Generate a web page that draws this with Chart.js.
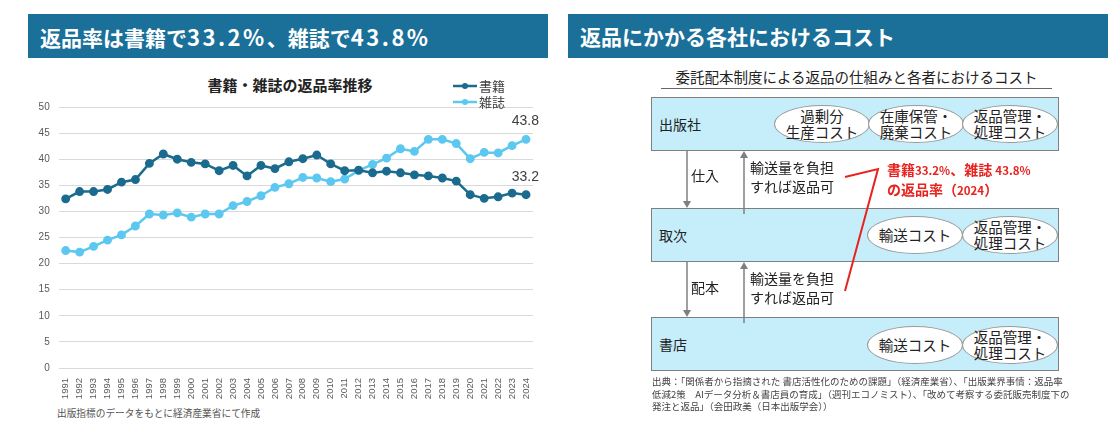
<!DOCTYPE html>
<html lang="ja">
<head>
<meta charset="utf-8">
<script src="https://cdn.jsdelivr.net/npm/chart.js@4.4.1/dist/chart.umd.min.js"></script>
<style>
  body { margin: 0; background: #fff; font-family: "Noto Sans CJK JP", "Noto Sans", sans-serif; }
  #page { position: relative; width: 1117px; height: 439px; overflow: hidden; }
  .abs { position: absolute; white-space: nowrap; }
  .bar { position: absolute; background: #1a7099; color: #fff; font-weight: bold; font-size: 21px; line-height: 44px; padding-left: 12px; box-sizing: border-box; }
  .bar .num { letter-spacing: 2.5px; font-size: 22px; }
  .box { position: absolute; left: 651px; width: 408px; height: 54px; background: #c6eefa; border: 1.5px solid #7f7f7f; box-sizing: border-box; }
  .name { position: absolute; left: 7px; top: 0; line-height: 52px; font-size: 14px; color: #222; }
  .ell { position: absolute; width: 96px; height: 38px; border-radius: 50%; background: #fff; border: 1.5px solid #9a9a9a; box-sizing: border-box;
         display: flex; align-items: center; justify-content: center; text-align: center; font-size: 14.5px; line-height: 16px; color: #222; }
  .txt { font-size: 14px; color: #222; line-height: 19px; }
</style>
</head>
<body>
<div id="page">
  <!-- left panel -->
  <div class="bar" style="left:28px; top:14px; width:520px; height:44px;">返品率は書籍で<span class="num">33.2%</span>、雑誌で<span class="num">43.8%</span></div>
  <div class="abs" style="left:0; top:74px; width:580px; text-align:center; font-size:15px; font-weight:bold; color:#222;">書籍・雑誌の返品率推移</div>
  <div style="position:absolute; left:0; top:62px; width:550px; height:340px;">
    <canvas id="returnRate"></canvas>
  </div>
  <div class="abs" style="left:57px; top:406px; font-size:9.7px; color:#555;">出版指標のデータをもとに経済産業省にて作成</div>

  <!-- right panel -->
  <div class="bar" style="left:568px; top:14px; width:540px; height:44px;">返品にかかる各社におけるコスト</div>
  <div class="abs" style="left:661px; top:67px; width:391px; text-align:center; font-size:14.5px; color:#222; line-height:19px;">委託配本制度による返品の仕組みと各者におけるコスト</div>
  <div class="abs" style="left:661px; top:88px; width:391px; height:0; border-top:1px solid #666;"></div>

  <div class="box" style="top:97px;">
    <div class="name">出版社</div>
  </div>
  <div class="box" style="top:208px;">
    <div class="name">取次</div>
  </div>
  <div class="box" style="top:317px;">
    <div class="name">書店</div>
  </div>

  <div class="ell" style="left:774px; top:105px;">過剰分<br>生産コスト</div>
  <div class="ell" style="left:868px; top:105px;">在庫保管・<br>廃棄コスト</div>
  <div class="ell" style="left:962px; top:105px;">返品管理・<br>処理コスト</div>

  <div class="ell" style="left:867px; top:216px;">輸送コスト</div>
  <div class="ell" style="left:962px; top:216px;">返品管理・<br>処理コスト</div>

  <div class="ell" style="left:867px; top:326px;">輸送コスト</div>
  <div class="ell" style="left:962px; top:326px;">返品管理・<br>処理コスト</div>

  <svg class="abs" style="left:0; top:0;" width="1117" height="439">
    <g stroke="#7f7f7f" stroke-width="1.5" fill="#7f7f7f">
      <line x1="687" y1="151" x2="687" y2="202"/>
      <polygon points="683,201 691,201 687,208" stroke="none"/>
      <line x1="744" y1="214" x2="744" y2="157"/>
      <polygon points="740,158 748,158 744,151" stroke="none"/>
      <line x1="687" y1="262" x2="687" y2="311"/>
      <polygon points="683,310 691,310 687,317" stroke="none"/>
      <line x1="744" y1="323" x2="744" y2="268"/>
      <polygon points="740,269 748,269 744,262" stroke="none"/>
    </g>
    <polyline points="845,177 878,169 845,291" fill="none" stroke="#e8231f" stroke-width="2"/>
  </svg>

  <div class="abs txt" style="left:691px; top:166px;">仕入</div>
  <div class="abs txt" style="left:750px; top:158px;">輸送量を負担<br>すれば返品可</div>
  <div class="abs txt" style="left:691px; top:278px;">配本</div>
  <div class="abs txt" style="left:750px; top:269px;">輸送量を負担<br>すれば返品可</div>

  <div class="abs" style="left:887px; top:160px; color:#e8231f; font-weight:bold; font-size:14px; line-height:19px;">
    書籍<span style="font-size:11.5px;">33.2%</span>、雑誌 <span style="font-size:11.5px;">43.8%</span><br>の返品率（<span style="font-size:11.5px;">2024</span>）
  </div>

  <div class="abs" style="left:652px; top:375px; font-size:9.5px; line-height:12.5px; color:#444;">
    出典：「関係者から指摘された 書店活性化のための課題」（経済産業省）、「出版業界事情：返品率<br>
    低減2策　AIデータ分析＆書店員の育成」（週刊エコノミスト）、「改めて考察する委託販売制度下の<br>
    発注と返品」（会田政美（日本出版学会））
  </div>
</div>

<script>
// 書籍・雑誌の返品率 (%)
var years = ['1991', '1992', '1993', '1994', '1995', '1996', '1997', '1998', '1999', '2000',
             '2001', '2002', '2003', '2004', '2005', '2006', '2007', '2008', '2009', '2010',
             '2011', '2012', '2013', '2014', '2015', '2016', '2017', '2018', '2019', '2020',
             '2021', '2022', '2023', '2024'];
var books = [32.4, 33.8, 33.8, 34.2, 35.6, 36.1, 39.2, 41.0, 40.0, 39.4,
             39.1, 37.8, 38.8, 36.8, 38.8, 38.2, 39.5, 40.1, 40.8, 39.1,
             37.8, 37.9, 37.4, 37.7, 37.4, 37.0, 36.8, 36.4, 35.8, 33.2,
             32.5, 32.8, 33.5, 33.2];
var magazines = [22.5, 22.2, 23.3, 24.5, 25.5, 27.2, 29.5, 29.3, 29.7, 28.9,
                 29.5, 29.5, 31.1, 31.9, 33.0, 34.6, 35.3, 36.5, 36.4, 35.7,
                 36.2, 37.8, 39.0, 40.2, 42.0, 41.5, 43.8, 43.8, 43.0, 40.1,
                 41.3, 41.2, 42.6, 43.8];
var seriesNames = ['書籍', '雑誌'];
var seriesColors = ['#1b6b8f', '#5cc8f0'];

// last value label above the final point
var endLabels = {
    id: 'endLabels',
    afterDatasetsDraw: function (chart) {
        var ctx = chart.ctx;
        ctx.save();
        ctx.font = '14px "Liberation Sans", Arial, sans-serif';
        ctx.fillStyle = '#404040';
        ctx.textAlign = 'right';
        ctx.textBaseline = 'middle';
        chart.data.datasets.forEach(function (ds, i) {
            var meta = chart.getDatasetMeta(i);
            var pt = meta.data[meta.data.length - 1];
            var v = ds.data[ds.data.length - 1];
            ctx.fillText(v.toFixed(1), pt.x + 13, pt.y - 18);
        });
        ctx.restore();
    }
};

// legend stacked at the top right
var stackedLegend = {
    id: 'stackedLegend',
    afterDraw: function (chart) {
        var ctx = chart.ctx;
        ctx.save();
        chart.data.datasets.forEach(function (ds, i) {
            var y = 24 + i * 16;
            ctx.strokeStyle = ds.borderColor;
            ctx.fillStyle = ds.borderColor;
            ctx.lineWidth = 2.5;
            ctx.beginPath();
            ctx.moveTo(453, y);
            ctx.lineTo(477, y);
            ctx.stroke();
            ctx.beginPath();
            ctx.arc(465, y, 3, 0, Math.PI * 2);
            ctx.fill();
            ctx.fillStyle = '#404040';
            ctx.font = '13px "Noto Sans CJK JP", sans-serif';
            ctx.textBaseline = 'middle';
            ctx.fillText(ds.label, 479, y);
        });
        ctx.restore();
    }
};

var rateCtx = document.getElementById('returnRate').getContext('2d');
var rateChart = new Chart(rateCtx, {
    type: 'line',
    data: {
        labels: years,
        datasets: [{
            label: seriesNames[0],
            data: books,
            borderColor: seriesColors[0],
            backgroundColor: seriesColors[0],
            borderWidth: 2.5,
            pointRadius: 3.2,
            pointHoverRadius: 3.2,
            tension: 0
        }, {
            label: seriesNames[1],
            data: magazines,
            borderColor: seriesColors[1],
            backgroundColor: seriesColors[1],
            borderWidth: 2.5,
            pointRadius: 3.2,
            pointHoverRadius: 3.2,
            tension: 0
        }]
    },
    options: {
        responsive: true,
        maintainAspectRatio: false,
        animation: false,
        layout: { padding: { top: 45, right: 17, left: 0, bottom: 0 } },
        plugins: {
            legend: { display: false },
            tooltip: { enabled: false }
        },
        scales: {
            x: {
                offset: true,
                grid: { display: false },
                border: { display: false },
                ticks: {
                    autoSkip: false,
                    minRotation: 90,
                    maxRotation: 90,
                    padding: 2,
                    color: '#595959',
                    font: { family: '"Liberation Sans", Arial, sans-serif', size: 9.5 }
                },
                afterFit: function (s) { s.height = 34; }
            },
            y: {
                min: 0,
                max: 50,
                ticks: {
                    stepSize: 5,
                    padding: 9,
                    color: '#595959',
                    font: { family: '"Liberation Sans", Arial, sans-serif', size: 10 }
                },
                grid: { color: '#d9d9d9', drawTicks: false },
                border: { display: false },
                afterFit: function (s) { s.width = 58.7; }
            }
        }
    },
    plugins: [endLabels, stackedLegend]
});
</script>
</body>
</html>
